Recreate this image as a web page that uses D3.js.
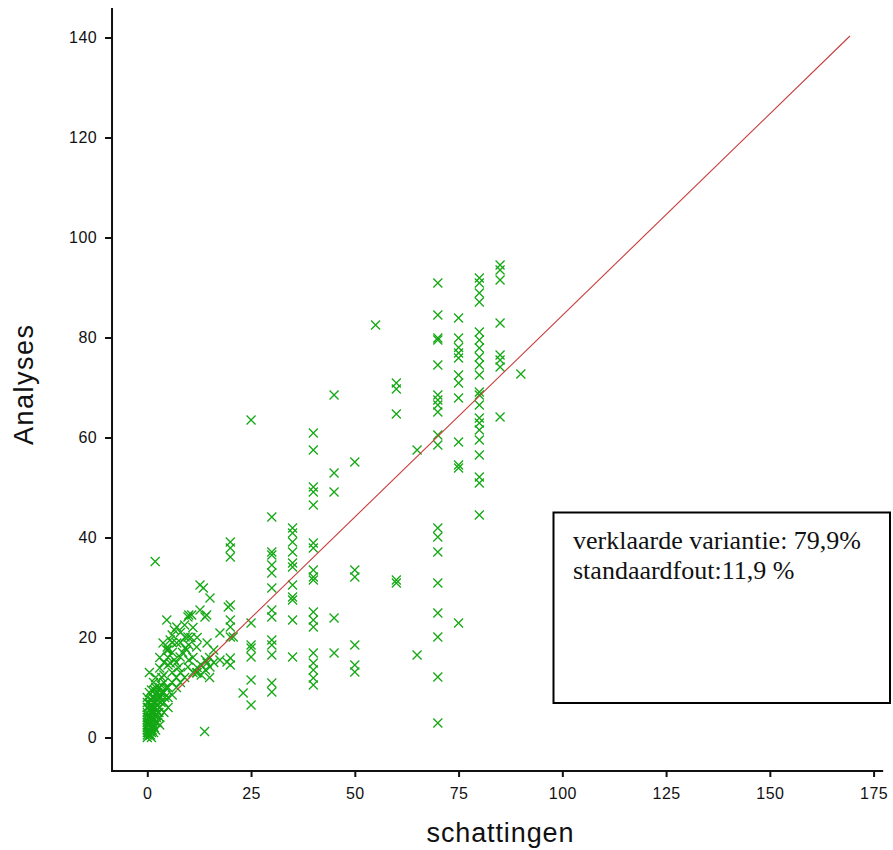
<!DOCTYPE html>
<html>
<head>
<meta charset="utf-8">
<script src="https://cdn.jsdelivr.net/npm/d3@7"></script>
<style>
  html, body { margin: 0; padding: 0; background: #fff; }
  svg { display: block; }
</style>
</head>
<body>
<svg id="chart" width="893" height="850"></svg>
<script>
// tick values
const xTicks = [0, 25, 50, 75, 100, 125, 150, 175]
const yTicks = [0, 20, 40, 60, 80, 100, 120, 140]

// axis extent (data units), the axes run a bit past the ticks
const xExtent = [-8.5, 177.3]
const yExtent = [-6.7, 145.9]

// columns of observations with a round estimate
const kolomSchatting = [20, 25, 30, 35, 40, 45, 50, 55, 60, 65, 70, 75, 80, 85, 90]
const kolomAnalyses = [
  [39.1, 37.9, 36.1, 26.5, 23.5, 22.1, 20.1, 15.9, 14.5],
  [63.5, 22.9, 18.5, 17.9, 16.1, 11.5, 6.5],
  [44.1, 37.1, 36.5, 34.5, 32.9, 29.9, 25.5, 24.1, 19.5, 18.5, 16.5, 10.9, 9.1],
  [41.9, 40.9, 39.1, 37.1, 34.9, 34.1, 30.5, 28.1, 27.5, 23.5, 16.1],
  [60.9, 57.5, 50.1, 49.1, 46.5, 38.9, 37.9, 33.5, 32.1, 31.5, 25.1, 23.5, 22.1, 16.9, 14.9, 13.5, 11.9, 10.5],
  [68.5, 52.9, 49.1, 23.9, 16.9],
  [55.1, 33.5, 32.1, 18.5, 14.5, 13.1],
  [82.5],
  [70.9, 69.7, 64.7, 31.5, 30.9],
  [57.5, 16.5],
  [90.9, 84.5, 79.9, 79.5, 74.5, 68.5, 67.5, 66.5, 65.1, 60.5, 58.5, 41.9, 40.1, 37.1, 30.9, 24.9, 20.1, 12.1, 2.9],
  [83.9, 79.9, 78, 76.9, 75.9, 72.5, 70.9, 67.9, 59.1, 54.5, 53.9, 22.9],
  [91.9, 90.9, 88.9, 87.1, 81.1, 79.5, 77.9, 76.1, 74.5, 72.5, 69.1, 68.5, 66.5, 63.9, 62.9, 61.5, 59.5, 56.5, 52.1, 50.9, 44.5],
  [94.5, 93.5, 91.5, 82.9, 76.5, 75.5, 74.1, 64.1],
  [72.7]
]

// the crowded part near the origin
const lageSchatting = [
  0, 0, 0, 0, 0, 0, 0, 0, 0, 0, 0, 0, 0, 0,
  0.3, 0.3, 0.3, 0.3,
  0.5, 0.5, 0.5, 0.5, 0.5, 0.5, 0.5, 0.5,
  0.8, 0.8, 0.8, 0.8,
  1, 1, 1, 1, 1, 1, 1, 1, 1,
  1.2, 1.2, 1.2, 1.2,
  1.5, 1.5, 1.5, 1.5, 1.5, 1.5, 1.9,
  1.7, 1.7, 1.7, 1.7,
  2, 2, 2, 2, 2, 2, 2, 2,
  2.2, 2.2, 2.2,
  2.5, 2.5, 2.5, 2.5,
  2.8, 2.8,
  3, 3, 3, 3, 3, 3, 3,
  3.3, 3.3, 3.5, 3.5,
  3.8, 4, 4, 4, 4, 4, 4, 4.7, 4.8, 4.7,
  4.2, 4.5,
  5, 5, 5, 5, 5, 5, 5.5, 5.5,
  6, 6, 6, 6, 6, 6, 6.5, 6.5,
  7.1, 7.1, 7, 7, 7.9, 7, 7.5,
  8, 8, 8, 8, 8.5,
  9.1, 9.1, 9.5, 9.8, 9.8, 9.8, 9, 9,
  10, 10.7, 10, 10, 10.5,
  11, 11.9, 11.9, 11, 11,
  12.7, 12.7, 12, 12, 12,
  13.5, 13.9, 13.8, 13, 13,
  14.4, 14.4, 14, 14, 14.3,
  15.1, 15.1, 15, 15,
  16, 16, 17.5, 17.5, 19.2, 19.5, 20.7, 23.1
]
const lageAnalyses = [
  0, 0.5, 1, 1.5, 2, 2.5, 3, 3.5, 4, 4.5, 5, 6, 7, 8,
  1, 2.5, 4, 6,
  0.5, 1.5, 3, 4, 5.5, 7, 9, 13,
  0.5, 2, 3.5, 6.5,
  0, 1, 2, 3, 4, 5, 6, 7.5, 9.5,
  1.5, 3.5, 5.5, 8,
  1, 2.5, 4, 6, 8, 11, 35.2,
  2, 5, 7, 9.5,
  1.5, 3, 4.5, 6, 7, 8.5, 10, 12,
  4, 6.5, 9,
  3, 5, 7.5, 9,
  5, 8.5,
  2.5, 4, 6, 8, 10, 13.9, 16,
  7, 10.5, 9, 12,
  18.9, 5, 7, 9, 11, 12.5, 15, 23.5, 18.1, 17.5,
  8, 10,
  6, 8, 10, 14.5, 16, 17.5, 19.5, 14.9,
  8.5, 11, 13, 17, 20.5, 19, 21.5, 15.5,
  22.1, 18.9, 10, 12, 16.1, 15, 14,
  11, 13, 19, 21, 17,
  17.9, 20.1, 17.5, 24.1, 14.1, 20.1, 12, 22.5,
  24.5, 24.5, 15.5, 18.5, 20,
  13, 18.1, 12.9, 16, 22,
  25.5, 30.5, 14, 13, 20,
  29.9, 24.1, 1.2, 14.5, 12.5,
  18.9, 14.9, 15.5, 13.5, 24.5,
  27.9, 14.1, 16, 12,
  15, 17.5, 15.5, 20.9, 15.1, 26.1, 20.1, 8.9
]

// fitted line, start and end
const fitSchatting = [7.1, 169.3]
const fitAnalyses = [9.5, 140.3]

const statRegels = ['verklaarde variantie: 79,9%', 'standaardfout:11,9 %']

const svg = d3.select('#chart')

const x = d3.scaleLinear().domain([0, 175]).range([147.3, 873.6])
const y = d3.scaleLinear().domain([0, 140]).range([737.5, 37.5])

const punten = []
kolomSchatting.forEach((s, i) => {
  kolomAnalyses[i].forEach((a) => punten.push({ s, a }))
})
lageSchatting.forEach((s, i) => punten.push({ s, a: lageAnalyses[i] }))

// markers
svg.append('g')
  .selectAll('path')
  .data(punten)
  .join('path')
  .attr('transform', (d) => `translate(${x(d.s)},${y(d.a)})`)
  .attr('d', 'M-4.5,-4.5L4.5,4.5M-4.5,4.5L4.5,-4.5')
  .attr('stroke', '#14a814')
  .attr('stroke-width', 1.3)
  .attr('fill', 'none')

// regression line
const fit = fitSchatting.map((s, i) => [s, fitAnalyses[i]])
svg.append('path')
  .datum(fit)
  .attr('d', d3.line().x((d) => x(d[0])).y((d) => y(d[1])))
  .attr('stroke', '#c83c3c')
  .attr('stroke-width', 1.1)
  .attr('fill', 'none')

// axes
const xAxis = svg.append('g')
  .attr('transform', `translate(0,${y(yExtent[0])})`)
  .call(d3.axisBottom(x).tickValues(xTicks).tickSize(6).tickSizeOuter(0).tickFormat(d3.format('d')))
xAxis.select('.domain').remove()

const yAxis = svg.append('g')
  .attr('transform', `translate(${x(xExtent[0])},0)`)
  .call(d3.axisLeft(y).tickValues(yTicks).tickSize(7).tickSizeOuter(0).tickFormat(d3.format('d')))
yAxis.select('.domain').remove()

svg.append('line')
  .attr('x1', x(xExtent[0])).attr('x2', x(xExtent[1]))
  .attr('y1', y(yExtent[0])).attr('y2', y(yExtent[0]))
  .attr('stroke', '#111').attr('stroke-width', 2)
svg.append('line')
  .attr('x1', x(xExtent[0])).attr('x2', x(xExtent[0]))
  .attr('y1', y(yExtent[0]) + 1).attr('y2', y(yExtent[1]))
  .attr('stroke', '#111').attr('stroke-width', 2)

svg.selectAll('.tick line').attr('stroke', '#111').attr('stroke-width', 2)
svg.selectAll('.tick text')
  .attr('font-family', '"Liberation Sans", Arial, sans-serif')
  .attr('font-size', 16)
  .attr('letter-spacing', 0.5)
  .attr('fill', '#111')
xAxis.selectAll('.tick text').attr('dy', '1.2em')
yAxis.selectAll('.tick text').attr('dx', '-0.3em')

// axis titles
svg.append('text')
  .attr('x', 500)
  .attr('y', 842)
  .attr('text-anchor', 'middle')
  .attr('font-family', '"Liberation Sans", Arial, sans-serif')
  .attr('font-size', 27)
  .attr('textLength', 147)
  .attr('lengthAdjust', 'spacing')
  .attr('fill', '#111')
  .text('schattingen')

svg.append('text')
  .attr('transform', 'translate(33,385) rotate(-90)')
  .attr('text-anchor', 'middle')
  .attr('font-family', '"Liberation Sans", Arial, sans-serif')
  .attr('font-size', 27)
  .attr('textLength', 120)
  .attr('lengthAdjust', 'spacing')
  .attr('fill', '#111')
  .text('Analyses')

// statistics box
svg.append('rect')
  .attr('x', 553.5).attr('y', 512.5)
  .attr('width', 336.5).attr('height', 190.5)
  .attr('fill', '#fff')
  .attr('stroke', '#000')
  .attr('stroke-width', 2)

svg.append('g')
  .selectAll('text')
  .data(statRegels)
  .join('text')
  .attr('x', 573)
  .attr('y', (d, i) => 549 + i * 30)
  .attr('font-family', '"Liberation Serif", "Times New Roman", serif')
  .attr('font-size', 26)
  .attr('fill', '#111')
  .text((d) => d)
</script>
</body>
</html>
